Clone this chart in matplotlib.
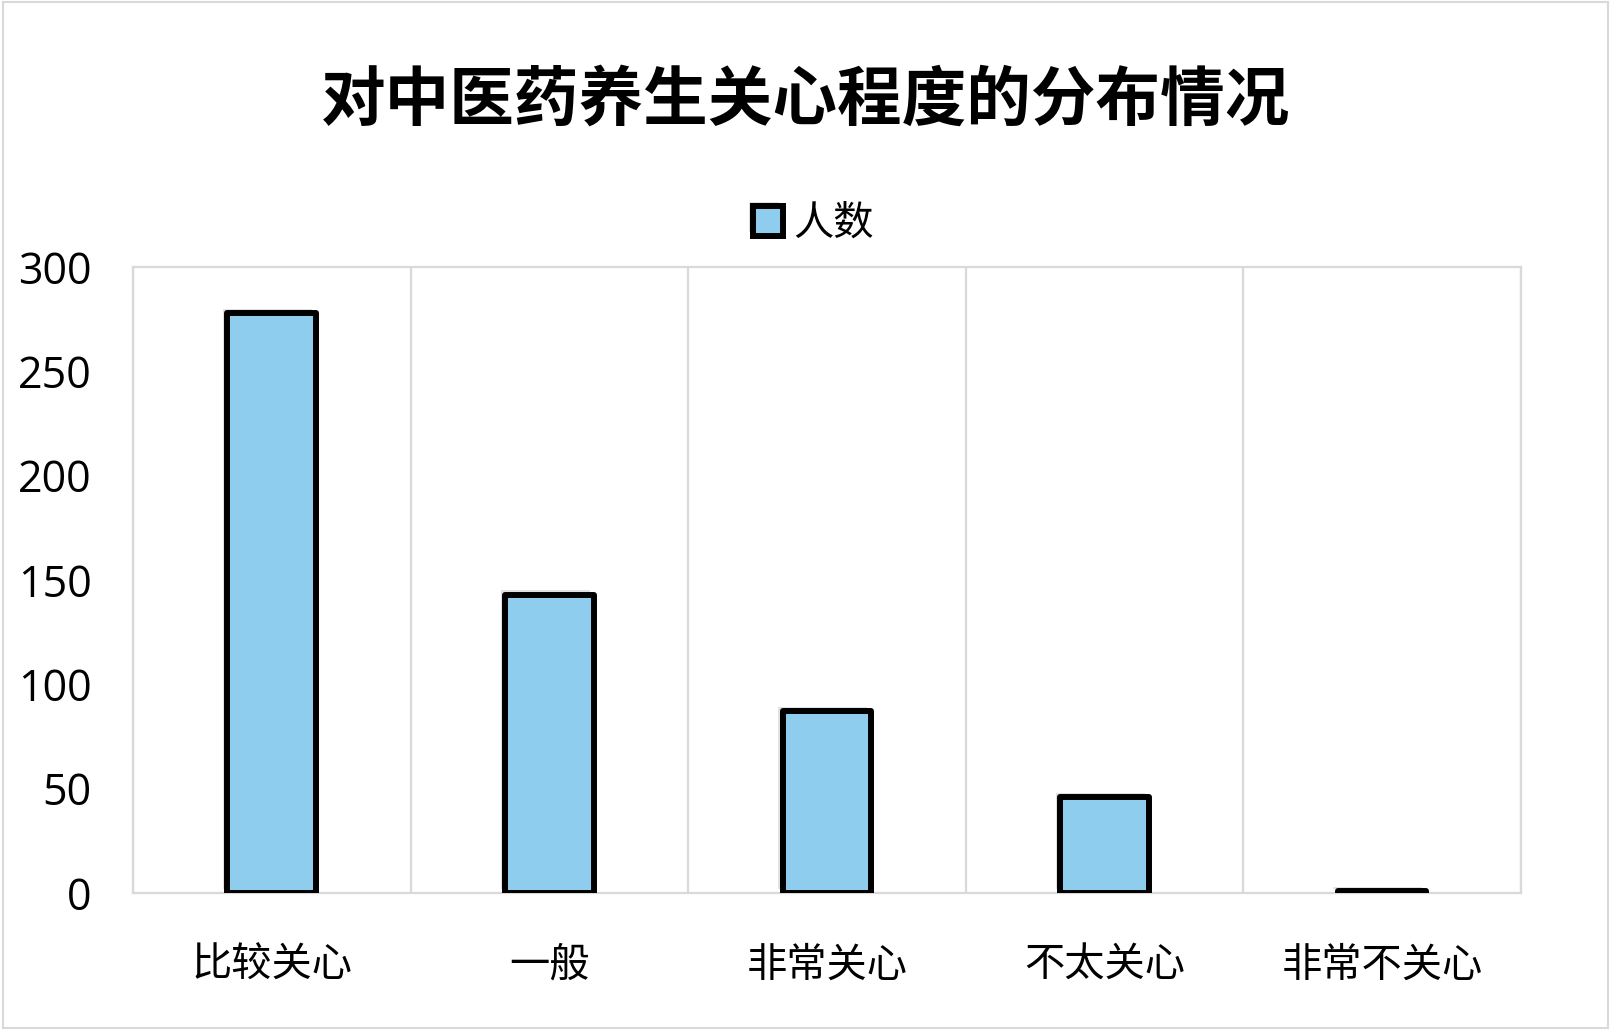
import matplotlib
matplotlib.use("Agg")
import matplotlib.pyplot as plt
import matplotlib.patheffects as pe
from matplotlib.patches import Rectangle

plt.rcParams['font.family'] = ['Noto Sans CJK SC', 'DejaVu Sans']

categories = ['比较关心', '一般', '非常关心', '不太关心', '非常不关心']
counts = [278, 143, 87, 46, 1]
series_name = '人数'
title = '对中医药养生关心程度的分布情况'
yticks = [0, 50, 100, 150, 200, 250, 300]

fig = plt.figure(figsize=(16.11, 10.30), dpi=100)
ax = fig.add_axes([0.0826, 0.133, 0.8614, 0.608])

bar_color = '#8FCDEF'
x = list(range(len(categories)))
bars = ax.bar(x, counts, width=0.32, color=bar_color, edgecolor='black',
              linewidth=4.3, label=series_name, zorder=3)
for b in bars:
    b.set_path_effects([pe.SimplePatchShadow(offset=(-3, 3), shadow_rgbFace='#888888', alpha=0.25),
                        pe.Normal()])
    b.set_joinstyle('round')

ax.set_xlim(-0.5, len(categories) - 0.5)
ax.set_ylim(0, 300)
ax.set_yticks(yticks)
ax.set_yticklabels([str(t) for t in yticks], fontsize=31, family=['Open Sans', 'DejaVu Sans'])
ax.set_xticks(x)
ax.set_xticklabels(categories, fontsize=29)
ax.tick_params(axis='y', length=0, pad=30)
ax.tick_params(axis='x', length=0, pad=37)

for b in [i - 0.5 for i in range(len(categories) + 1)]:
    ax.axvline(b, color='#d9d9d9', linewidth=1.6, zorder=1)
for s in ax.spines.values():
    s.set_color('#d9d9d9')
    s.set_linewidth(1.6)

leg = fig.legend(loc='center', bbox_to_anchor=(0.505, 0.783), frameon=False,
                 fontsize=29, handlelength=0.75, handleheight=0.75, handletextpad=0.25)

fig.text(0.5, 0.902, title, ha='center', va='center', fontsize=46.5, fontweight='bold')

fig.patches.append(Rectangle((0.002, 0.002), 0.996, 0.996, transform=fig.transFigure,
                             fill=False, edgecolor='#d9d9d9', linewidth=1.5))

fig.savefig('out.png', dpi=100, facecolor='white')
